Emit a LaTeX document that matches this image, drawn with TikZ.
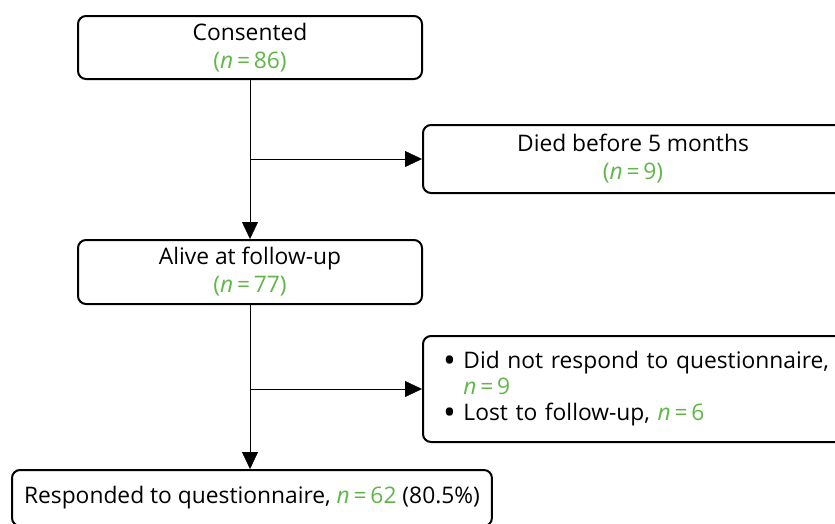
\documentclass[tikz,border=0pt]{standalone}
\usepackage{fontspec}
\setmainfont{Open Sans}
\usetikzlibrary{arrows.meta,positioning}
\definecolor{ngreen}{RGB}{96,182,72}
\tikzset{
    %Define standard arrow tip
    >={Triangle[length=17pt,width=16pt]},
    line width=2.4pt,
    flow/.style={
      rectangle,
      rounded corners=8pt,
      draw=black, line width=2pt,
      align=center,
      font=\fontsize{22.8}{28}\selectfont},
    listbox/.style={
      flow,
      align=left,
      anchor=west,
      inner xsep=20pt,
      font=\fontsize{22.8}{26}\selectfont},
}
\newcommand{\nval}[1]{\textcolor{ngreen}{\textit{n}\,=\,#1}}
\newcommand{\bigdot}{\raisebox{-0.19em}{\scalebox{1.5}{\textbullet}}}

\begin{document}
\begin{tikzpicture}[x=1pt,y=-1pt]
    \useasboundingbox (0,0) rectangle (835,523);
    \node (consented) [flow, minimum width=344pt, minimum height=63pt] at (250,47.5)
          {Consented\\\textcolor{ngreen}{(\nval{86})}};
    \node (died) [flow, minimum width=420pt, minimum height=68pt] at (633,159)
          {Died before 5 months\\\textcolor{ngreen}{(\nval{9})}};
    \node (alive) [flow, minimum width=344pt, minimum height=64pt] at (250,272)
          {Alive at follow-up\\\textcolor{ngreen}{(\nval{77})}};
    \node (lost) [listbox, text width=390pt, minimum height=106pt] at (422,389)
          {\begin{tabular}{@{}l@{\ }l@{}}
             \bigdot & Did not respond to questionnaire,\\
                     & \nval{9}\\
             \bigdot & Lost to follow-up, \nval{6}
           \end{tabular}};
    \node (responded) [flow, anchor=west, inner xsep=12pt, minimum height=56pt] at (11,498)
          {Responded to questionnaire, \nval{62} (80.5\%)};
    % main flow
    \draw [->] (consented) -- (alive);
    \draw [->] (alive.south) -- (alive.south |- responded.north);
    % exclusions
    \coordinate (split1) at (consented.south |- died.west);
    \coordinate (split2) at (alive.south |- lost.west);
    \draw [->] (split1) -- (died.west);
    \draw [->] (split2) -- (lost.west);
\end{tikzpicture}
\end{document}
